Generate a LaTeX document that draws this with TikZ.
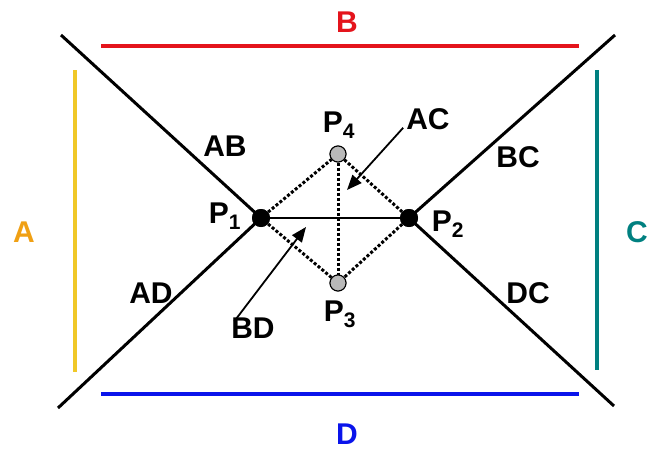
\documentclass[tikz,border=0pt]{standalone}
\usepackage{fontspec}
\setmainfont{Liberation Sans}
\usepackage{tikz}
\usetikzlibrary{arrows.meta, positioning}
\definecolor{lineA}{RGB}{240,200,40}
\definecolor{textA}{RGB}{240,160,20}
\definecolor{lineB}{RGB}{228,20,28}
\definecolor{lineC}{RGB}{0,128,128}
\definecolor{lineD}{RGB}{10,20,235}
\tikzstyle{lbl}    = [font=\fontsize{30}{33}\selectfont\bfseries, inner sep=0pt]
\tikzstyle{side}   = [line width=3.2pt]
\tikzstyle{cut}    = [line width=3pt, black]
\tikzstyle{bigdot} = [circle, fill=black, minimum size=18pt, inner sep=0pt]
\tikzstyle{pdot}   = [circle, fill=gray!55, draw=black, line width=1pt, minimum size=16pt, inner sep=0pt]
\tikzstyle{dots}   = [line width=3pt, dotted]
\tikzstyle{arrow}  = [line width=1.8pt, -{Triangle[length=15pt, width=12pt]}]

\begin{document}
\begin{tikzpicture}[x=1pt, y=-1pt]
\useasboundingbox (0,0) rectangle (656,450);

% boundary lines
\draw [side, lineB] (101,46) -- (579,46);
\draw [side, lineD] (101,394) -- (579,394);
\draw [side, lineA] (75,70) -- (75,372);
\draw [side, lineC] (597,70) -- (597,370);
\node (A) [lbl, text=textA] at (24,232) {A};
\node (B) [lbl, text=lineB] at (347,22) {B};
\node (C) [lbl, text=lineC] at (637,232) {C};
\node (D) [lbl, text=lineD] at (347,434) {D};

% points
\node (p1) [bigdot] at (261,218) {};
\node (p2) [bigdot] at (409,218) {};
\node (p4) [pdot]   at (338,154) {};
\node (p3) [pdot]   at (338,283) {};

\coordinate (tl) at (61,35);
\coordinate (bl) at (58,408);
\coordinate (tr) at (615,35);
\coordinate (br) at (614,406);

\draw [cut] (tl) -- (p1.center) -- (bl);
\draw [cut] (tr) -- (p2.center) -- (br);
\draw [line width=2.8pt] (p1) -- (p2);
\draw [dots] (p1) -- (p4) -- (p2) -- (p3) -- (p1);
\draw [dots] (p4) -- (p3);
\node [bigdot] at (p1) {};
\node [bigdot] at (p2) {};
\node [pdot] at (p4) {};
\node [pdot] at (p3) {};

% labels
\node (l1) [lbl] at (225,216) {P\textsubscript{1}};
\node (l2) [lbl] at (448,224) {P\textsubscript{2}};
\node (l4) [lbl] at (339,125) {P\textsubscript{4}};
\node (l3) [lbl] at (340,314) {P\textsubscript{3}};
\node (ab) [lbl] at (225,146) {AB};
\node (ad) [lbl] at (151,293) {AD};
\node (bc) [lbl] at (518,157) {BC};
\node (dc) [lbl] at (528,293) {DC};
\node (ac) [lbl] at (428,119) {AC};
\node (bd) [lbl] at (253,328) {BD};

\coordinate (actip) at (347,190);
\coordinate (bdtip) at (306,227);
\draw [arrow] (ac.south west) ++(-3pt,2pt) -- (actip);
\draw [arrow] (bd.north west) ++(3pt,-4pt) -- (bdtip);

\end{tikzpicture}
\end{document}
